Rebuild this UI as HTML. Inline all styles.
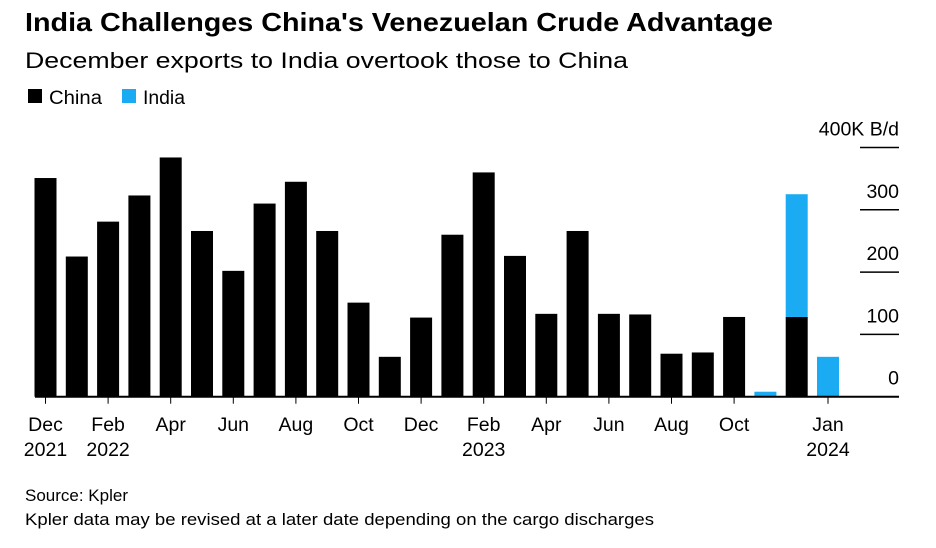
<!DOCTYPE html>
<html><head><meta charset="utf-8"><style>
body{margin:0;background:#fff;font-family:"Liberation Sans",Arial,sans-serif;}
svg{display:block}
</style></head><body>
<svg width="936" height="548" font-family="Liberation Sans, Arial, sans-serif">
<text x="25" y="31" font-size="26" font-weight="bold" fill="#000" textLength="748" lengthAdjust="spacingAndGlyphs">India Challenges China's Venezuelan Crude Advantage</text>
<text x="25" y="68" font-size="22" fill="#000" textLength="603" lengthAdjust="spacingAndGlyphs">December exports to India overtook those to China</text>
<g>
<rect x="28" y="89" width="14" height="14" fill="#000"/>
<text x="49" y="104" font-size="19" textLength="53" lengthAdjust="spacingAndGlyphs">China</text>
<rect x="122" y="89" width="14" height="14" fill="#1aabf2"/>
<text x="143" y="104" font-size="19" textLength="42" lengthAdjust="spacingAndGlyphs">India</text>
</g>
<g id="grid"></g>
<g id="bars"></g>
<g id="xaxis"></g>
<text x="25" y="501" font-size="17">Source: Kpler</text>
<text x="25" y="525" font-size="17" textLength="629" lengthAdjust="spacingAndGlyphs">Kpler data may be revised at a later date depending on the cargo discharges</text>
</svg>
<script>
const categories=["Dec 2021","Jan 2022","Feb 2022","Mar 2022","Apr 2022","May 2022","Jun 2022","Jul 2022","Aug 2022","Sep 2022","Oct 2022","Nov 2022","Dec 2022","Jan 2023","Feb 2023","Mar 2023","Apr 2023","May 2023","Jun 2023","Jul 2023","Aug 2023","Sep 2023","Oct 2023","Nov 2023","Dec 2023","Jan 2024"];
const china=[351,225,281,323,384,266,202,310,345,266,151,64,127,260,360,226,133,266,133,132,69,71,128,0,128,0];
const india=[0,0,0,0,0,0,0,0,0,0,0,0,0,0,0,0,0,0,0,0,0,0,0,8,197,64];
const yTicks=[0,100,200,300,400];
const yTickLabels=["0","100","200","300","400K B/d"];
const xTickLabels=[["Dec","2021"],["Feb","2022"],["Apr",""],["Jun",""],["Aug",""],["Oct",""],["Dec",""],["Feb","2023"],["Apr",""],["Jun",""],["Aug",""],["Oct",""],["Jan","2024"]];
const xTickIdx=[0,2,4,6,8,10,12,14,16,18,20,22,25];
const NS="http://www.w3.org/2000/svg";
const x0=45.5,step=31.3,bw=22,y0=396.7,pxPer=0.623;
const xs=i=>x0+i*step;
const ys=v=>y0-v*pxPer;
function mk(t,a,p){const e=document.createElementNS(NS,t);for(const k in a)e.setAttribute(k,a[k]);p.appendChild(e);return e;}
const grid=document.getElementById('grid');
yTicks.forEach((v,i)=>{
  if(v>0){const l=mk('line',{x1:860,x2:899,y1:ys(v),y2:ys(v),stroke:'#000','stroke-width':1.5},grid);
  
  }
  const t=mk('text',{x:899,y:ys(v)-12,'font-size':19.5,'text-anchor':'end'},grid);
  t.textContent=yTickLabels[i];
  
  
});
const bars=document.getElementById('bars');
categories.forEach((c,i)=>{
  if(china[i]>0){const r=mk('rect',{x:xs(i)-bw/2,y:ys(china[i]),width:bw,height:y0-ys(china[i]),fill:'#000'},bars);
  
  }
  if(india[i]>0){const r=mk('rect',{x:xs(i)-bw/2,y:ys(china[i]+india[i]),width:bw,height:india[i]*pxPer,fill:'#1aabf2'},bars);
  
  }
});
const xa=document.getElementById('xaxis');
const base=mk('line',{x1:35,x2:899,y1:y0,y2:y0,stroke:'#000','stroke-width':2},xa);


xTickIdx.forEach((idx,k)=>{
  const x=xs(idx);
  const tk=mk('line',{x1:x,x2:x,y1:y0,y2:y0+7,stroke:'#000','stroke-width':1},xa);
  
  
  xTickLabels[k].forEach((s,j)=>{if(!s)return;
    const t=mk('text',{x:x,y:431+j*25,'font-size':19.5,'text-anchor':'middle'},xa);
    t.textContent=s;
    
    
  });
});
</script>
</body></html>
